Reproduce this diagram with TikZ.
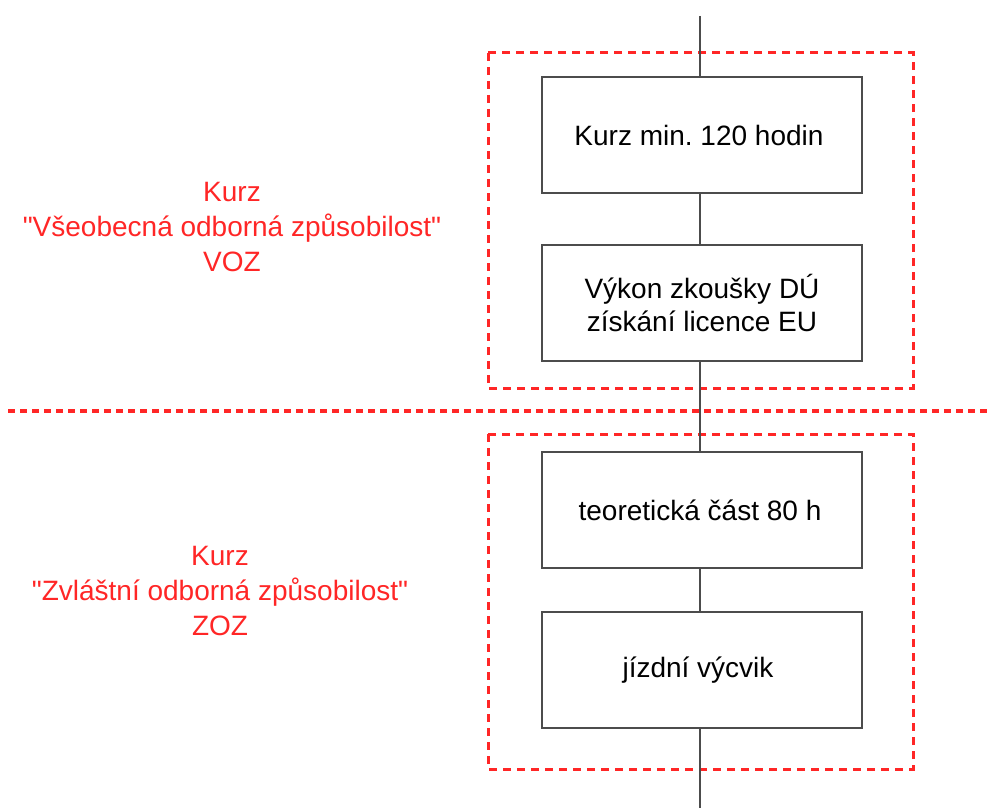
\documentclass[tikz,border=0pt]{standalone}
\usepackage{fontspec}
\setmainfont{Liberation Sans}[Ligatures=TeXOff]
\frenchspacing
\begin{document}
\begin{tikzpicture}[x=1pt,y=-1pt,
  stepbox/.style={draw=black!70,line width=1.3pt,fill=white,minimum width=320pt,minimum height=116pt,inner sep=0pt,align=center,font=\fontsize{28}{33}\selectfont},
  zone/.style={draw=red!85!white,line width=3pt,dash pattern=on 8pt off 6pt},
  conn/.style={draw=black!70,line width=1.3pt},
  lbl/.style={text=red!85!white,align=center,font=\fontsize{28}{35}\selectfont}]
\useasboundingbox (0,0) rectangle (989,808);
\coordinate (top) at (700,16);
\coordinate (bot) at (700,808);
\draw[zone] (488,53) rectangle (913,388);
\draw[zone] (488,434) rectangle (913,769);
\draw[red!85!white,line width=4pt,dash pattern=on 7pt off 5pt] (8,411) -- (989,411);
\node[stepbox] (b1) at (702,135) {Kurz min. 120 hodin\hspace*{6pt}};
\node[stepbox] (b2) at (702,303) {Výkon zkoušky DÚ\\získání licence EU};
\node[stepbox] (b3) at (702,510) {teoretická část 80 h\hspace*{4pt}};
\node[stepbox] (b4) at (702,670) {jízdní výcvik\hspace*{8pt}};
\draw[conn] (top) -- (b1.north -| top);
\draw[conn] (b1.south -| top) -- (b2.north -| top);
\draw[conn] (b2.south -| top) -- (b3.north -| top);
\draw[conn] (b3.south -| top) -- (b4.north -| top);
\draw[conn] (b4.south -| top) -- (bot);
\node[lbl] (l1) at (232,227) {Kurz\\"Všeobecná odborná způsobilost"\\VOZ};
\node[lbl] (l2) at (220,591) {Kurz\\"Zvláštní odborná způsobilost"\\ZOZ};
\end{tikzpicture}
\end{document}
